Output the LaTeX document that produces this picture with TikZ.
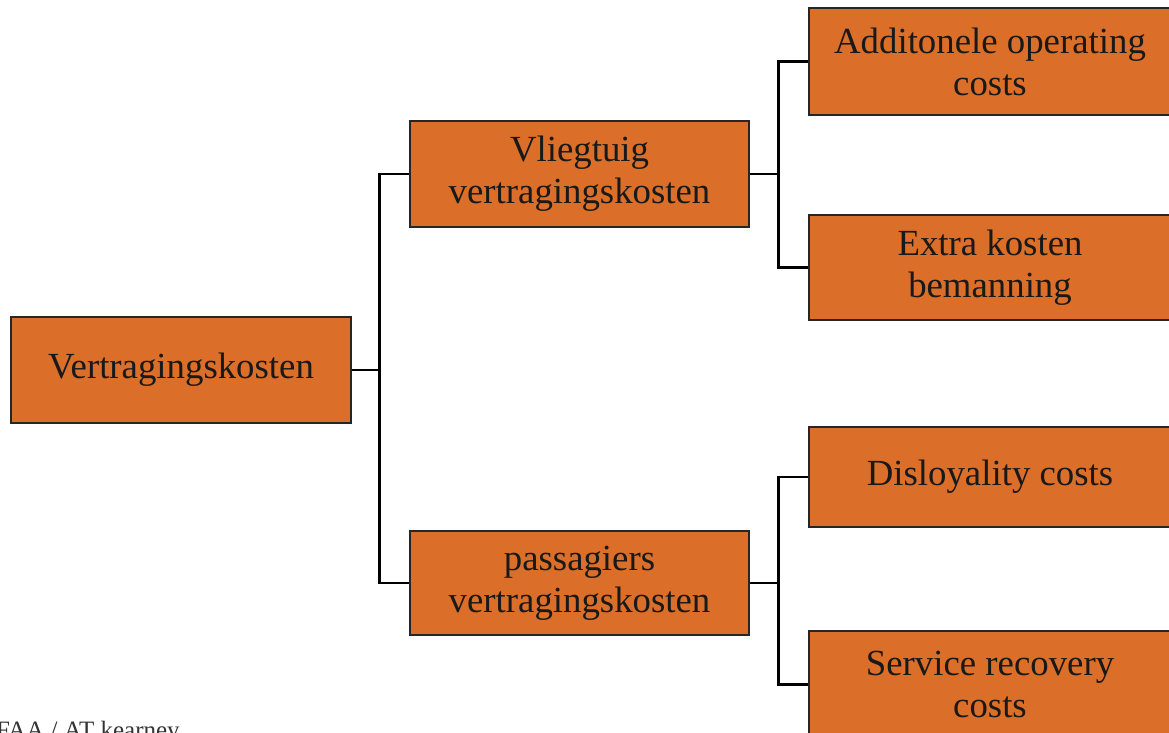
\documentclass[tikz,border=0pt]{standalone}
\usepackage{fontspec}
\setmainfont{Liberation Serif}
\begin{document}
\begin{tikzpicture}[x=1pt,y=-1pt,
  costbox/.style={draw=black!85, line width=1.4pt, fill=boxorange,
    align=center, inner sep=0pt, text=black!90,
    font=\fontsize{36.8}{42}\selectfont},
  link/.style={draw=black, line width=2.6pt}]
\definecolor{boxorange}{RGB}{219,110,40}
\useasboundingbox (0,0) rectangle (1169,732);
\clip (0,0) rectangle (1169,732);

% cost tree
\node[costbox, minimum width=340pt, minimum height=106pt] (root) at (181,370) {Vertragingskosten};
\node[costbox, minimum width=339pt, minimum height=106pt] (plane) at (579.5,174) {Vliegtuig\\vertragingskosten};
\node[costbox, minimum width=339pt, minimum height=104pt] (pax) at (579.5,583) {passagiers\\vertragingskosten};
\node[costbox, minimum width=362pt, minimum height=107pt] (ops) at (990,61.5) {Additonele operating\\costs};
\node[costbox, minimum width=362pt, minimum height=105pt] (crew) at (990,267.5) {Extra kosten\\bemanning};
\node[costbox, minimum width=362pt, minimum height=100pt] (loyal) at (990,477) {Disloyality costs};
\node[costbox, minimum width=362pt, minimum height=107pt] (recov) at (990,684.5) {Service recovery\\costs};

% branches
\draw[link] (root.east) -- ++(28,0) |- (plane.west);
\draw[link] (root.east) -- ++(28,0) |- (pax.west);
\draw[link] (plane.east) -- ++(29,0) |- (ops.west);
\draw[link] (plane.east) -- ++(29,0) |- (crew.west);
\draw[link] (pax.east) -- ++(29,0) |- (loyal.west);
\draw[link] (pax.east) -- ++(29,0) |- (recov.west);

% source line
\node[anchor=base west, inner sep=0pt, text=black!80,
  font=\fontsize{25}{30}\selectfont] (src) at (-4,738) {FAA / AT kearney};
\end{tikzpicture}
\end{document}
